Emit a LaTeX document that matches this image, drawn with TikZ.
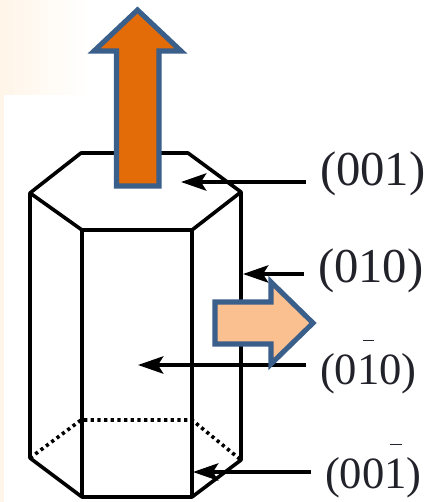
\documentclass[tikz,border=0pt]{standalone}
\usepackage{fontspec}
\setmainfont{Liberation Serif}
\usetikzlibrary{arrows.meta}
\definecolor{bluel}{HTML}{3A5F8B}
\definecolor{orangef}{HTML}{E36C09}
\definecolor{peachf}{HTML}{FAC08F}
\definecolor{bgp}{HTML}{FFF5E8}
\definecolor{txt}{HTML}{22222A}
\newcommand{\bonebar}{\rlap{\hspace{0.12em}\raisebox{0.97em}{\rule{0.26em}{0.035em}}}1}
\tikzset{
  edge/.style={draw=black,line width=2.7pt,line join=round},
  dots/.style={draw=black,line width=2.7pt,dash pattern=on 2.4pt off 2.6pt},
  lead/.style={draw=black,line width=2.4pt,-{Stealth[length=19pt,width=13pt,inset=4pt]}},
  lab/.style={anchor=west,inner sep=0pt,outer ysep=0pt,outer xsep=10.5pt,text=txt},
  bigarrow/.style={draw=bluel,line width=3.8pt,miter limit=10,line join=miter},
}
\begin{document}
\begin{tikzpicture}[x=0.75pt,y=-0.75pt]
\useasboundingbox (0,0) rectangle (432,502);
\fill[white] (0,0) rectangle (432,502);
\shade[left color=bgp,right color=white] (0,0) rectangle (88,95);
\fill[bgp] (0,95) rectangle (4,502);
% hexagon prism
\coordinate (a1) at (30,193); \coordinate (a2) at (81,153); \coordinate (a3) at (188,153);
\coordinate (a4) at (241,192); \coordinate (a5) at (192,230); \coordinate (a6) at (82,230);
\coordinate (b1) at (30,458); \coordinate (b2) at (81,420); \coordinate (b3) at (192,420);
\coordinate (b4) at (241,460); \coordinate (b5) at (192,497); \coordinate (b6) at (82,497);
\draw[edge] (a1)--(a2)--(a3)--(a4)--(a5)--(a6)--cycle;
\draw[edge] (a1)--(b1)--(b6)--(b5)--(b4)--(a4);
\draw[edge] (a6)--(b6) (a5)--(b5);
\draw[dots] (b1)--(b2)--(b3)--(b4);
% labels
\node[lab,font=\fontsize{36.5}{36.5}\selectfont] (l001) at (306,174) {(001)};
\node[lab,font=\fontsize{36.5}{36.5}\selectfont] (l010) at (304,271) {(010)};
\node[lab,font=\fontsize{33.5}{33.5}\selectfont] (l0b0) at (306,367) {(0\bonebar0)};
\node[lab,font=\fontsize{33.5}{33.5}\selectfont] (l00b) at (311,471) {(00\bonebar)};
\coordinate (t001) at (181,182);
\coordinate (t010) at (243,274);
\coordinate (t0b0) at (138,365);
\coordinate (t00b) at (193,472);
\draw[lead] (l001.west |- t001) -- (t001);
\draw[lead] (l010.west |- t010) -- (t010);
\draw[lead] (l0b0.west |- t0b0) -- (t0b0);
\draw[lead] (l00b.west |- t00b) -- (t00b);
% block arrows
\draw[bigarrow,fill=orangef] (116.5,186)--(116.5,51)--(94,51)--(137.5,10)--(181,51)--(159,51)--(159,186)--cycle;
\draw[bigarrow,fill=peachf] (215,302)--(271,302)--(271,282)--(313,323)--(271,364)--(271,344)--(215,344)--cycle;
\end{tikzpicture}
\end{document}
